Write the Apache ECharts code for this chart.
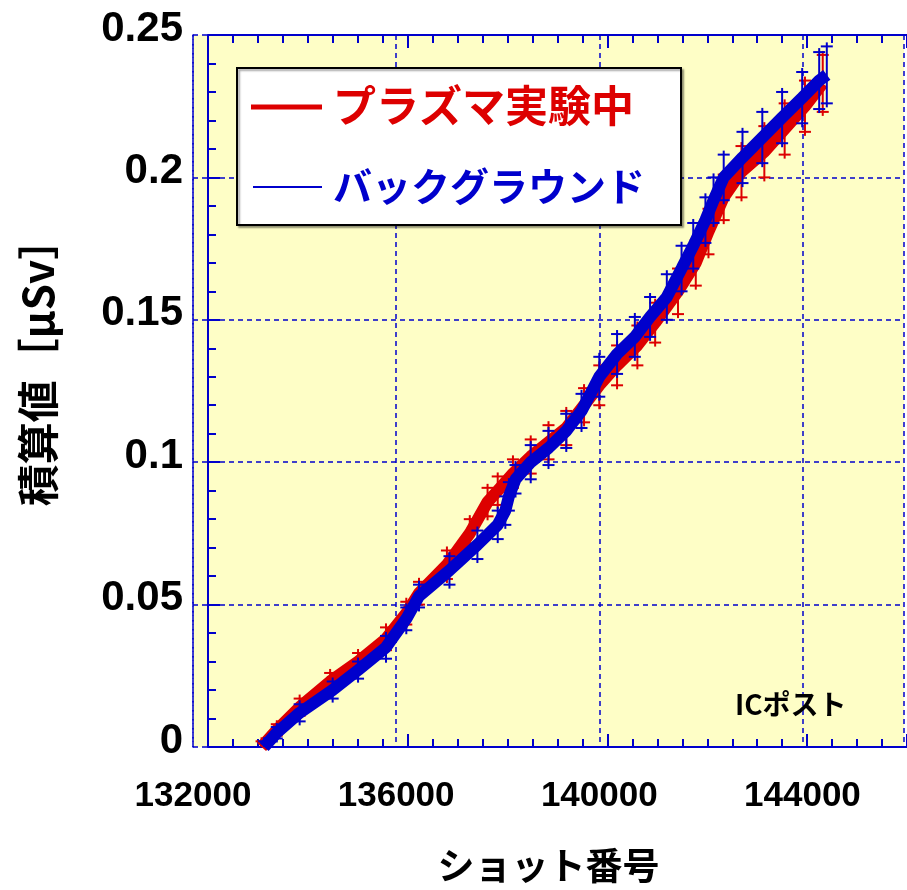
<!DOCTYPE html>
<html><head><meta charset="utf-8">
<script src="https://cdn.jsdelivr.net/npm/echarts@6/dist/echarts.min.js"></script>
<style>html,body{margin:0;padding:0;background:#fff;}#c{width:907px;height:890px;}</style>
</head><body><div id="c"></div>
<script>
// Background (blue)
const shotsBg = [133400,133650,134100,134750,135250,135800,136200,136450,137050,137600,138000,138150,138220,138350,138650,139000,139350,139650,140000,140350,140700,141000,141330,141620,141850,142090,142250,142450,142820,143210,143600,143995,144330,144480];
const doseBg  = [0.000,0.005,0.012,0.020,0.027,0.035,0.045,0.053,0.062,0.071,0.078,0.083,0.088,0.094,0.100,0.105,0.111,0.118,0.130,0.138,0.144,0.151,0.158,0.168,0.176,0.185,0.192,0.200,0.207,0.214,0.221,0.228,0.234,0.236];
const errBg   = [0.002,0.002,0.003,0.003,0.003,0.004,0.004,0.004,0.005,0.005,0.005,0.005,0.005,0.005,0.006,0.006,0.006,0.006,0.007,0.007,0.007,0.007,0.008,0.008,0.008,0.008,0.008,0.008,0.009,0.009,0.009,0.009,0.010,0.010];
// Plasma experiment (red)
const shotsPl = [133350,133650,134100,134700,135250,135800,136200,136450,137000,137450,137800,138000,138300,138650,139000,139350,139700,140000,140350,140750,141100,141550,141900,142150,142450,142800,143250,143650,144050,144400];
const dosePl  = [0.000,0.006,0.014,0.023,0.030,0.038,0.047,0.054,0.064,0.075,0.086,0.090,0.096,0.102,0.107,0.112,0.120,0.127,0.134,0.141,0.149,0.160,0.170,0.181,0.193,0.202,0.209,0.217,0.225,0.233];
const errPl   = [0.002,0.002,0.003,0.003,0.003,0.004,0.004,0.004,0.005,0.005,0.005,0.005,0.005,0.006,0.006,0.006,0.006,0.007,0.007,0.007,0.007,0.008,0.008,0.008,0.008,0.009,0.009,0.009,0.009,0.010];

const seriesNames = ['プラズマ実験中','バックグラウンド'];
const xAxisName = 'ショット番号';
const yAxisName = '積算値［μSv］';
const cornerLabel = 'ICポスト';

const RED = '#DD0000', BLUE = '#0000CC', BG = '#FEFEC6';
const numFont = '"Liberation Sans", Arial, sans-serif';
const jpFont = '"Noto Sans CJK JP", sans-serif';

function pts(xs, ys){ return xs.map((x,i)=>[x, ys[i]]); }
function errPts(xs, ys, es){ return xs.map((x,i)=>[x, ys[i]-es[i], ys[i]+es[i]]); }
function errRender(color){
  return function(params, api){
    const x = api.value(0);
    const lo = api.coord([x, api.value(1)]);
    const hi = api.coord([x, api.value(2)]);
    const cw = 6, ext = 4;
    const st = {stroke: color, lineWidth: 2};
    return {type:'group', children:[
      {type:'line', shape:{x1:lo[0], y1:lo[1]+ext, x2:hi[0], y2:hi[1]-ext}, style:st},
      {type:'line', shape:{x1:lo[0]-cw, y1:lo[1], x2:lo[0]+cw, y2:lo[1]}, style:st},
      {type:'line', shape:{x1:hi[0]-cw, y1:hi[1], x2:hi[0]+cw, y2:hi[1]}, style:st}
    ]};
  };
}

const chart = echarts.init(document.getElementById('c'), null, {renderer:'canvas'});
const dashed = {color: BLUE, width: 1.5, type: [5,4]};
const solidAxis = {show:true, lineStyle:{color: BLUE, width: 2}};
chart.setOption({
  backgroundColor: '#fff',
  animation: false,
  grid: [
    {left:193, top:35, right:-3, bottom:143, show:true, backgroundColor:BG, borderWidth:0},
    {left:208, top:35, width:714, bottom:143, show:false}
  ],
  xAxis: [
    {gridIndex:0, type:'value', min:132000, max:146000, interval:4000,
     axisLine:{show:false}, axisTick:{show:false},
     splitLine:{show:true, lineStyle:dashed},
     axisLabel:{show:true, margin:32, color:'#000', fontSize:35, fontWeight:'bold', fontFamily:numFont,
       formatter: v => v >= 146000 ? '' : String(v)},
     name: xAxisName, nameLocation:'middle', nameGap:100,
     nameTextStyle:{color:'#000', fontSize:37, fontWeight:'bold', fontFamily:jpFont}},
    {gridIndex:1, type:'value', position:'bottom', min:132000, max:146000, interval:4000,
     axisLine: solidAxis, axisTick:{show:true, inside:true, length:13, lineStyle:{color:BLUE, width:2}},
     minorTick:{show:true, splitNumber:8, length:8, lineStyle:{color:BLUE, width:2}},
     axisLabel:{show:false}, splitLine:{show:false}},
    {gridIndex:1, type:'value', position:'top', min:132000, max:146000, interval:4000,
     axisLine: solidAxis, axisTick:{show:true, inside:true, length:13, lineStyle:{color:BLUE, width:2}},
     minorTick:{show:true, splitNumber:8, length:8, lineStyle:{color:BLUE, width:2}},
     axisLabel:{show:false}, splitLine:{show:false}}
  ],
  yAxis: [
    {gridIndex:0, type:'value', min:0, max:0.25, interval:0.05,
     axisLine:{show:true, lineStyle:dashed}, axisTick:{show:false},
     splitLine:{show:true, lineStyle:dashed},
     axisLabel:{show:true, margin:10, color:'#000', fontSize:42, fontWeight:'bold', fontFamily:numFont,
       verticalAlign:'bottom', lineHeight:12}},
    {gridIndex:1, type:'value', position:'left', min:0, max:0.25, interval:0.05,
     axisLine: solidAxis, axisTick:{show:true, inside:true, length:12, lineStyle:{color:BLUE, width:2}},
     minorTick:{show:true, splitNumber:5, length:8, lineStyle:{color:BLUE, width:2}},
     axisLabel:{show:false}, splitLine:{show:false}}
  ],
  series: [
    {name: seriesNames[0], type:'line', xAxisIndex:0, yAxisIndex:0, data: pts(shotsPl, dosePl),
     showSymbol:false, lineStyle:{color:RED, width:12}, z:2, clip:true},
    {type:'custom', xAxisIndex:0, yAxisIndex:0, data: errPts(shotsPl, dosePl, errPl),
     renderItem: errRender(RED), z:3, clip:true},
    {name: seriesNames[1], type:'line', xAxisIndex:0, yAxisIndex:0, data: pts(shotsBg, doseBg),
     showSymbol:false, lineStyle:{color:BLUE, width:12}, z:4, clip:true},
    {type:'custom', xAxisIndex:0, yAxisIndex:0, data: errPts(shotsBg, doseBg, errBg),
     renderItem: errRender(BLUE), z:5, clip:true}
  ],
  graphic: [
    {type:'text', x:38, y:362, rotation:Math.PI/2,
     style:{text:yAxisName, fill:'#000', font:'bold 42px ' + jpFont, align:'center', verticalAlign:'middle'}, z:101},
    {type:'rect', shape:{x:237, y:68, width:444, height:157},
     style:{fill:'#fff', stroke:'#000', lineWidth:2, shadowColor:'rgba(0,0,0,0.35)', shadowOffsetX:2, shadowOffsetY:2, shadowBlur:2}, z:100},
    {type:'line', shape:{x1:251, y1:107, x2:322, y2:107}, style:{stroke:RED, lineWidth:5}, z:101},
    {type:'text', x:333, y:106, style:{text:seriesNames[0], fill:RED, font:'bold 43px ' + jpFont, verticalAlign:'middle'}, z:101},
    {type:'line', shape:{x1:253, y1:187, x2:322, y2:187}, style:{stroke:BLUE, lineWidth:2}, z:101},
    {type:'text', x:333, y:186, style:{text:seriesNames[1], fill:BLUE, font:'bold 39px ' + jpFont, verticalAlign:'middle'}, z:101},
    {type:'text', x:735, y:704, style:{text:cornerLabel, fill:'#000', font:'bold 28px ' + jpFont, verticalAlign:'middle'}, z:101}
  ]
});
</script></body></html>
